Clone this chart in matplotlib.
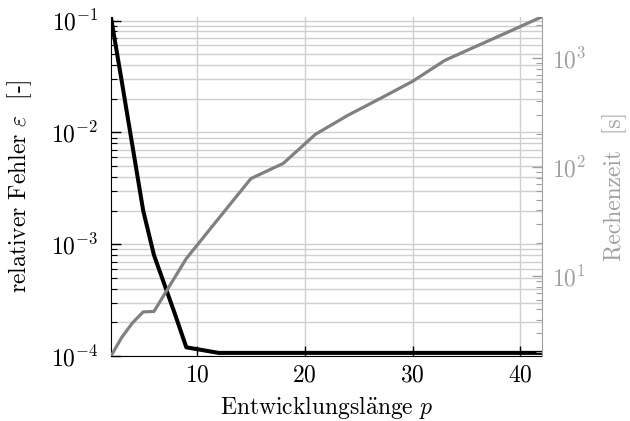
import matplotlib
matplotlib.use("Agg")
import matplotlib.pyplot as plt
from matplotlib.ticker import LogLocator, NullFormatter

plt.rcParams['font.family'] = 'serif'
plt.rcParams['font.serif'] = ['cmr10']
plt.rcParams['mathtext.fontset'] = 'cm'
plt.rcParams['axes.formatter.use_mathtext'] = True
plt.rcParams['axes.unicode_minus'] = False

# data
p = [2, 3, 4, 5, 6, 7, 8, 9, 12, 15, 18, 21, 24, 27, 30, 33, 36, 39, 42]
fehler = [0.108, 0.029, 0.0076, 0.002, 8.0e-4, 4.3e-4, 2.3e-4, 1.2e-4, 1.07e-4,
          1.07e-4, 1.07e-4, 1.07e-4, 1.07e-4, 1.07e-4, 1.07e-4, 1.07e-4, 1.07e-4,
          1.07e-4, 1.07e-4]
rechenzeit = [1.85, 2.74, 3.73, 4.71, 4.75, 6.9, 10.0, 14.5, 33.8, 78.5, 108, 200,
              298, 425, 610, 950, 1290, 1750, 2380]
x_ticks = [10, 20, 30, 40]

fs = 17
gray_dark = '#808080'
gray_light = '#a0a0a0'
grid_c = '#cfcfcf'

fig = plt.figure(figsize=(6.3, 4.21), dpi=100)
ax = fig.add_axes([0.176, 0.154, 0.684, 0.806])
ax.plot(p, fehler, color='black', lw=2.9, zorder=3)
ax.set_yscale('log')
ax.set_xlim(2, 42)
ax.set_ylim(1e-4, 0.108)
ax.set_xticks(x_ticks)
ax.yaxis.set_major_locator(LogLocator(base=10, numticks=10))
ax.yaxis.set_minor_locator(LogLocator(base=10, subs=range(2, 10), numticks=20))
ax.yaxis.set_minor_formatter(NullFormatter())
ax.grid(True, which='both', axis='y', color=grid_c, lw=1.0, zorder=0)
ax.grid(True, which='major', axis='x', color=grid_c, lw=1.0, zorder=0)
ax.set_axisbelow(True)
ax.tick_params(axis='both', which='major', direction='in', length=7.5, width=1,
               labelsize=fs, right=False, top=False)
ax.tick_params(axis='y', which='major', pad=9)
ax.tick_params(axis='x', which='major', pad=6)
ax.tick_params(axis='y', which='minor', direction='in', length=4.5, width=0.8, right=False)
ax.tick_params(axis='x', which='minor', bottom=False, top=False)
ax.spines['top'].set_visible(False)
ax.spines['right'].set_visible(False)
ax.set_xlabel(r'$\mathrm{Entwicklungsl\ddot{a}nge}\ p$', fontsize=fs, labelpad=5)
ax.set_ylabel('relativer Fehler $\\varepsilon$  [-]', fontsize=fs, labelpad=12)

ax2 = ax.twinx()
ax2.plot(p, rechenzeit, color=gray_dark, lw=2.3, zorder=3)
ax2.set_yscale('log')
ax2.set_ylim(1.85, 2380)
ax2.yaxis.set_major_locator(LogLocator(base=10, numticks=10))
ax2.yaxis.set_minor_locator(LogLocator(base=10, subs=range(2, 10), numticks=20))
ax2.yaxis.set_minor_formatter(NullFormatter())
ax2.tick_params(axis='y', which='major', direction='in', length=7.5, width=1,
                colors=gray_light, labelsize=fs, pad=7)
ax2.tick_params(axis='y', which='minor', direction='in', length=4.5, width=0.8,
                colors=gray_light)
for s in ['top', 'left', 'bottom']:
    ax2.spines[s].set_visible(False)
ax2.spines['right'].set_color(gray_light)
ax2.set_ylabel('Rechenzeit  [s]', fontsize=fs, color=gray_light, labelpad=12)

fig.savefig('out.png', dpi=100)
